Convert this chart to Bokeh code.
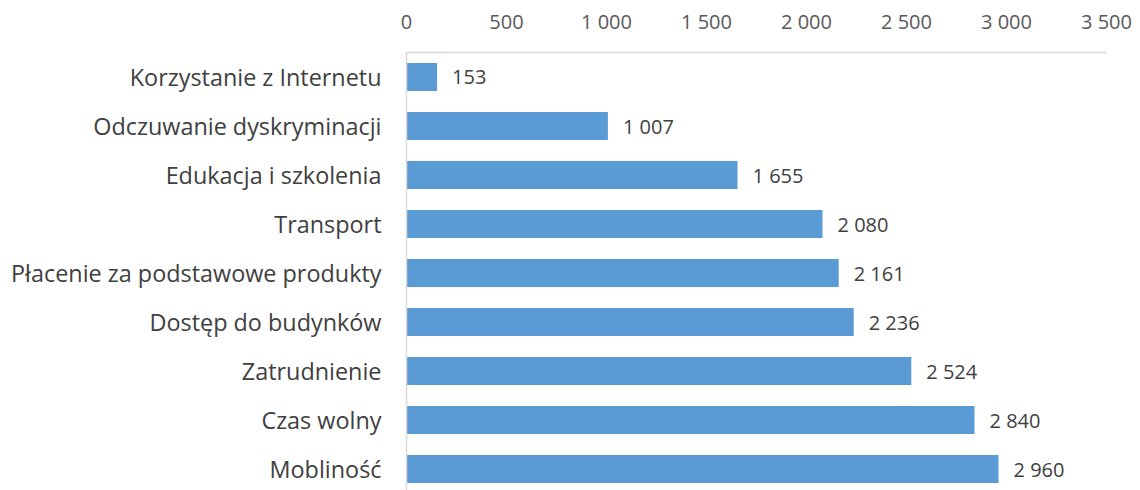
from bokeh.plotting import figure
from bokeh.models import Range1d, FixedTicker, ColumnDataSource
from bokeh.core.properties import value
from bokeh.embed import file_html
from bokeh.resources import INLINE

categories = [
    "Korzystanie z Internetu",
    "Odczuwanie dyskryminacji",
    "Edukacja i szkolenia",
    "Transport",
    "Płacenie za podstawowe produkty",
    "Dostęp do budynków",
    "Zatrudnienie",
    "Czas wolny",
    "Mobliność",
]
values = [153, 1007, 1655, 2080, 2161, 2236, 2524, 2840, 2960]
x_ticks = [0, 500, 1000, 1500, 2000, 2500, 3000, 3500]
x_tick_labels = ["0", "500", "1 000", "1 500", "2 000", "2 500", "3 000", "3 500"]

FONT = "Open Sans"
BAR = "#5B9BD5"
AXIS_GRAY = "#D9D9D9"

ypos = [i + 0.5 for i in range(len(categories))]
labels = [f"{v:,}".replace(",", " ") for v in values]
src = ColumnDataSource(dict(y=ypos, v=values, lab=labels))

p = figure(width=1132, height=490, output_backend="svg", toolbar_location=None,
           x_range=Range1d(0, 3500), y_range=Range1d(438 / 49, 0),
           x_axis_location="above", min_border_left=406, min_border_right=26,
           min_border_top=52, min_border_bottom=0)
p.outline_line_color = None
p.xgrid.visible = False
p.ygrid.visible = False

p.hbar(y="y", right="v", left=0, height=1 / 1.75, source=src,
       fill_color=BAR, line_color=None)
p.text(x="v", y="y", text="lab", source=src, x_offset=15,
       text_align="left", text_baseline="middle",
       text_font=value(FONT), text_font_size="20px", text_color="#404040")

xa = p.xaxis[0]
xa.ticker = FixedTicker(ticks=x_ticks)
xa.major_label_overrides = {t: l for t, l in zip(x_ticks, x_tick_labels)}
xa.major_tick_out = 0
xa.major_tick_in = 0
xa.minor_tick_out = 0
xa.minor_tick_in = 0
xa.axis_line_color = AXIS_GRAY
xa.axis_line_width = 1.5
xa.major_label_text_font = FONT
xa.major_label_text_font_size = "20px"
xa.major_label_text_color = "#595959"
xa.major_label_standoff = 18

ya = p.yaxis[0]
ya.ticker = FixedTicker(ticks=ypos)
ya.major_label_overrides = {y: c for y, c in zip(ypos, categories)}
ya.major_tick_out = 0
ya.major_tick_in = 0
ya.minor_tick_out = 0
ya.minor_tick_in = 0
ya.axis_line_color = AXIS_GRAY
ya.axis_line_width = 1.5
ya.major_label_text_font = FONT
ya.major_label_text_font_size = "23.4px"
ya.major_label_text_color = "#404040"
ya.major_label_standoff = 25

open("out.html", "w").write(file_html(p, INLINE))
